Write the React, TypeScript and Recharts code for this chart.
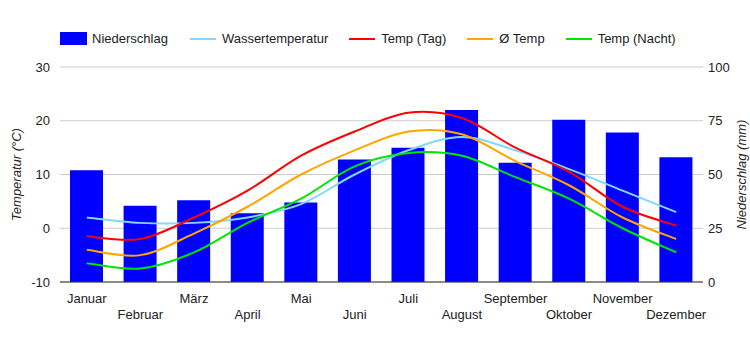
import React from 'react'
import { ComposedChart, Bar, Line, XAxis, YAxis, CartesianGrid } from 'recharts'

const MONATE = ['Januar', 'Februar', 'März', 'April', 'Mai', 'Juni', 'Juli', 'August', 'September', 'Oktober', 'November', 'Dezember']
const NIEDERSCHLAG = [52, 35.5, 38, 32, 37, 57, 62.5, 80, 55.5, 75.5, 69.5, 58]
const WASSER = [2, 1, 1, 2, 4.5, 10, 14.5, 17, 14.5, 11, 7, 3]
const TEMP_TAG = [-1.5, -2, 2, 7, 13.5, 18, 21.5, 20.5, 15, 10.5, 4, 0.5]
const TEMP_MITTEL = [-4, -5, -1, 4, 10, 14.5, 18, 17.5, 12.5, 8, 2, -2]
const TEMP_NACHT = [-6.5, -7.5, -4.5, 1, 5.5, 11.5, 14, 13.5, 9.5, 5.5, 0, -4.5]
const TEMP_TICKS = [-10, 0, 10, 20, 30]
const MM_TICKS = [0, 25, 50, 75, 100]

const FONT = "Arial, 'Liberation Sans', sans-serif"
const TXT = '#222'

const FARBEN = {
  niederschlag: '#0000ff',
  wasser: '#80d8ff',
  tag: '#ff0000',
  mittel: '#ffa500',
  nacht: '#00e600',
}

const data = MONATE.map((m, i) => ({
  name: m,
  niederschlag: NIEDERSCHLAG[i],
  wasser: WASSER[i],
  tag: TEMP_TAG[i],
  mittel: TEMP_MITTEL[i],
  nacht: TEMP_NACHT[i],
}))

const legende = [
  { key: 'niederschlag', label: 'Niederschlag', box: true },
  { key: 'wasser', label: 'Wassertemperatur' },
  { key: 'tag', label: 'Temp (Tag)' },
  { key: 'mittel', label: 'Ø Temp' },
  { key: 'nacht', label: 'Temp (Nacht)' },
]

// Catmull-Rom-Kurve, kommt der Glättung im Original näher als "monotone"
const glatt = (ctx: any) => {
  let pts: number[][] = []
  return {
    areaStart() {},
    areaEnd() {},
    lineStart() { pts = [] },
    point(x: number, y: number) { pts.push([+x, +y]) },
    lineEnd() {
      if (!pts.length) return
      ctx.moveTo(pts[0][0], pts[0][1])
      const k = 1 / 6
      for (let i = 0; i < pts.length - 1; i++) {
        const p0 = pts[i - 1] || pts[i]
        const p1 = pts[i]
        const p2 = pts[i + 1]
        const p3 = pts[i + 2] || p2
        ctx.bezierCurveTo(
          p1[0] + k * (p2[0] - p0[0]), p1[1] + k * (p2[1] - p0[1]),
          p2[0] - k * (p3[0] - p1[0]), p2[1] - k * (p3[1] - p1[1]),
          p2[0], p2[1],
        )
      }
    },
  }
}

// Monatsnamen abwechselnd in zwei Zeilen
function MonatTick(props: any) {
  const { x, y, payload } = props
  const zweite = payload.index % 2 === 1
  return (
    <text x={x} y={y + (zweite ? 37 : 21)} textAnchor="middle" fill={TXT} fontSize={13} fontFamily={FONT}>
      {payload.value}
    </text>
  )
}

function AchsenTitel({ viewBox, text, dx }: any) {
  const cx = viewBox.x + dx
  const cy = viewBox.y + viewBox.height / 2
  return (
    <text transform={`translate(${cx},${cy}) rotate(-90)`} textAnchor="middle" dominantBaseline="central"
      fill={TXT} fontSize={13} fontStyle="italic" fontFamily={FONT}>
      {text}
    </text>
  )
}

export default function App() {
  return (
    <div style={{ position: 'relative', width: 750, height: 350, background: '#fff' }}>
      <style>{'body{margin:0}'}</style>
      <div style={{ position: 'absolute', top: 31, left: 60, display: 'flex', alignItems: 'center', fontFamily: FONT, fontSize: 13, color: TXT, zIndex: 1 }}>
        {legende.map((l, i) => (
          <div key={l.key} style={{ display: 'flex', alignItems: 'center', marginRight: i === 0 ? 22 : 21 }}>
            {l.box
              ? <span style={{ width: 27, height: 13, background: (FARBEN as any)[l.key], marginRight: 5 }} />
              : <span style={{ width: 26, height: 2, background: (FARBEN as any)[l.key], marginRight: 6 }} />}
            <span>{l.label}</span>
          </div>
        ))}
      </div>
      <ComposedChart width={750} height={350} data={data} margin={{ top: 67, right: 0, bottom: 0, left: 0 }}>
        <CartesianGrid yAxisId="temp" vertical={false} stroke="#cccccc" />
        <XAxis dataKey="name" height={68} interval={0} tickLine={false} tickSize={0} tickMargin={0}
          axisLine={{ stroke: '#333', strokeWidth: 1 }} tick={<MonatTick />} />
        <YAxis yAxisId="temp" orientation="left" width={60} domain={[-10, 30]} ticks={TEMP_TICKS}
          axisLine={false} tickLine={false} tickSize={0} tickMargin={10}
          tick={{ fill: TXT, fontSize: 13, fontFamily: FONT }}
          label={{ content: (p: any) => <AchsenTitel {...p} text="Temperatur (°C)" dx={16.5} /> }} />
        <YAxis yAxisId="mm" orientation="right" width={47} domain={[0, 100]} ticks={MM_TICKS}
          axisLine={false} tickLine={false} tickSize={0} tickMargin={5}
          tick={{ fill: TXT, fontSize: 13, fontFamily: FONT }}
          label={{ content: (p: any) => <AchsenTitel {...p} text="Niederschlag (mm)" dx={38} /> }} />
        <Bar yAxisId="mm" dataKey="niederschlag" fill={FARBEN.niederschlag} barSize={33} isAnimationActive={false} />
        <Line yAxisId="temp" type={glatt as any} dataKey="wasser" stroke={FARBEN.wasser} strokeWidth={2} dot={false} isAnimationActive={false} />
        <Line yAxisId="temp" type={glatt as any} dataKey="tag" stroke={FARBEN.tag} strokeWidth={2} dot={false} isAnimationActive={false} />
        <Line yAxisId="temp" type={glatt as any} dataKey="mittel" stroke={FARBEN.mittel} strokeWidth={2} dot={false} isAnimationActive={false} />
        <Line yAxisId="temp" type={glatt as any} dataKey="nacht" stroke={FARBEN.nacht} strokeWidth={2} dot={false} isAnimationActive={false} />
      </ComposedChart>
    </div>
  )
}
